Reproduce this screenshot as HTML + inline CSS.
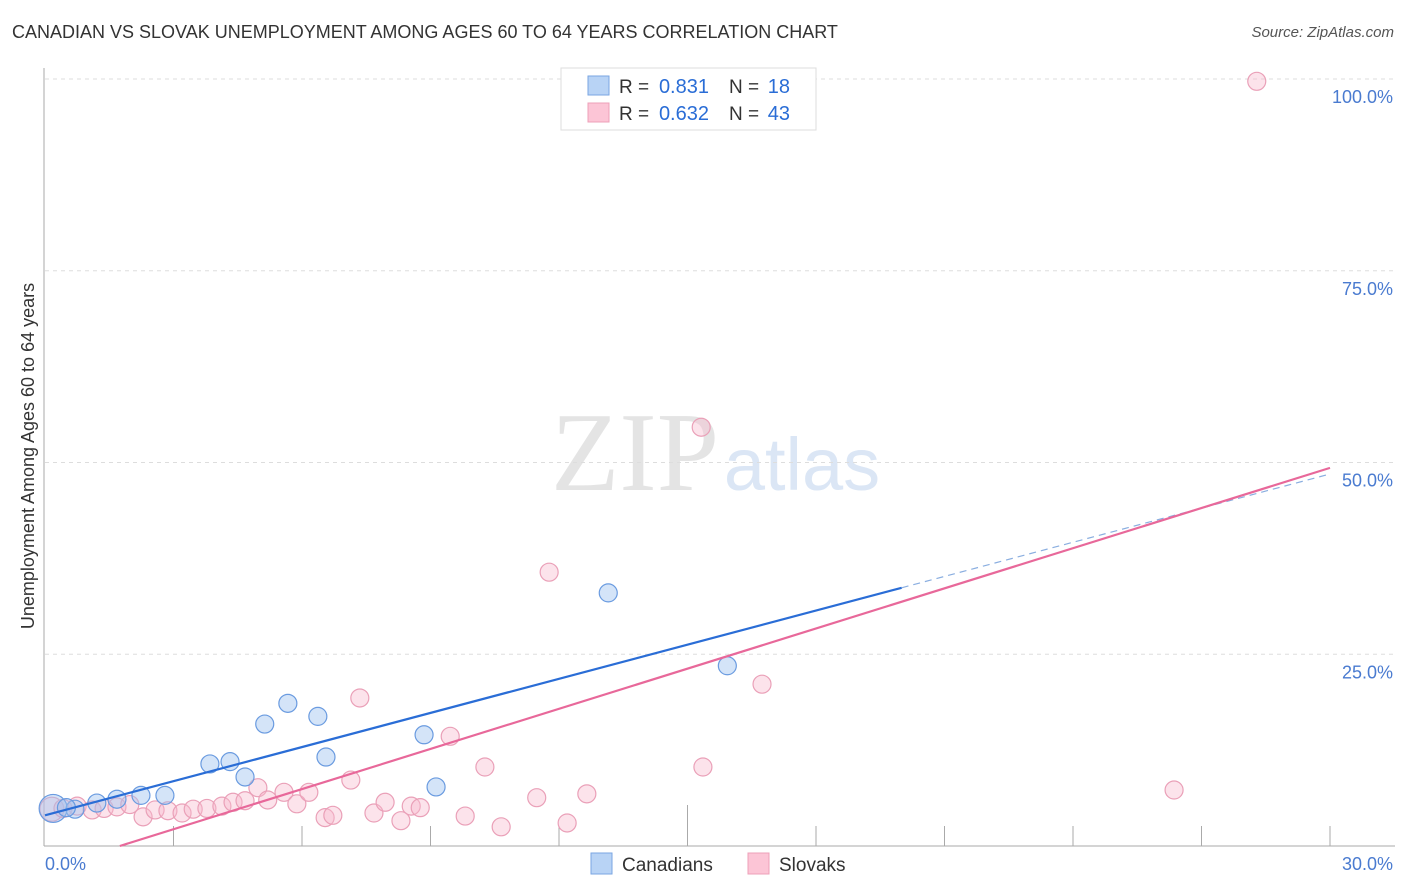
<!DOCTYPE html>
<html><head><meta charset="utf-8">
<style>
body{margin:0;background:#fff;font-family:"Liberation Sans",sans-serif;}
#wrap{position:relative;width:1406px;height:892px;overflow:hidden;}
.t{position:absolute;white-space:nowrap;}
</style></head>
<body>
<div id="wrap">
<div class="t" style="left:12px;top:22px;font-size:18px;color:#333;">CANADIAN VS SLOVAK UNEMPLOYMENT AMONG AGES 60 TO 64 YEARS CORRELATION CHART</div>
<div class="t" style="right:12px;top:24px;font-size:15px;color:#555;font-style:italic;">Source: ZipAtlas.com</div>
<svg id="svg" width="1406" height="892" style="position:absolute;left:0;top:0"></svg>
</div>
<script>
const xTicks=[0,3,6,9,12,15,18,21,24,27,30];
const yTicks=[25,50,75,100];
const canX=[0.19,0.70,1.21,1.68,2.24,2.80,3.85,4.32,4.67,5.13,5.67,6.37,6.56,8.85,9.13,13.15,15.93,0.50];
const canY=[4.9,4.8,5.6,6.1,6.6,6.6,10.7,11.0,9.0,15.9,18.6,16.9,11.6,14.5,7.7,33.0,23.5,5.0];
const slvX=[0.16,0.42,0.75,1.10,1.38,1.68,1.98,2.29,2.57,2.87,3.20,3.46,3.78,4.13,4.39,4.67,4.97,5.20,5.58,5.88,6.16,6.54,6.72,7.14,7.35,7.68,7.94,8.31,8.55,8.76,9.46,9.81,10.27,10.65,11.48,12.19,12.65,15.36,16.74,11.77,15.32,28.29,26.36];
const slvY=[4.8,4.9,5.2,4.7,4.9,5.1,5.4,3.8,4.7,4.6,4.3,4.8,4.9,5.2,5.7,5.9,7.6,6.0,7.0,5.5,7.0,3.7,4.0,8.6,19.3,4.3,5.7,3.3,5.2,5.0,14.3,3.9,10.3,2.5,6.3,3.0,6.8,10.3,21.1,35.7,54.6,99.7,7.3];
const canLine=[4.0,48.5];
const slvLine=[-3.05,49.3];
const NS='http://www.w3.org/2000/svg';
const svg=document.getElementById('svg');
const X0=45,X1=1330,Y0=846,Y100=79;
const sx=v=>X0+v/30*(X1-X0);
const sy=v=>Y0-v/100*(Y0-Y100);
function mk(tag,a,parent){const e=document.createElementNS(NS,tag);for(const k in a)e.setAttribute(k,a[k]);(parent||svg).appendChild(e);return e;}
let w=mk('text',{x:635,y:490,'font-size':112,'font-family':'Liberation Serif,serif',fill:'#e4e4e4','text-anchor':'middle'});w.textContent='ZIP';


let w2=mk('text',{x:802,y:490,'font-size':74,'font-family':'Liberation Sans,sans-serif',fill:'#dbe6f5','text-anchor':'middle'});w2.textContent='atlas';


yTicks.forEach(v=>{
 const g=mk('line',{x1:X0,x2:1395,y1:sy(v),y2:sy(v),stroke:'#ddd','stroke-dasharray':'4,4'});
 
 
 const t=mk('text',{x:1393,y:sy(v)+24,'font-size':18,fill:'#4a7bd0','text-anchor':'end'});t.textContent=v.toFixed(1)+'%';
 
 
});
const ax=mk('line',{x1:X0-1,x2:X0-1,y1:68,y2:Y0,stroke:'#aaa'});


const bx=mk('line',{x1:X0-1,x2:1395,y1:Y0,y2:Y0,stroke:'#aaa'});


xTicks.forEach((v,i)=>{
 if(i==0)return;
 const tl=mk('line',{x1:sx(v),x2:sx(v),y1:(v==15?805:826),y2:Y0,stroke:'#aaa'});
 
 
});
let xl=mk('text',{x:45,y:870,'font-size':18,fill:'#4a7bd0'});xl.textContent='0.0%';


let xr=mk('text',{x:1393,y:870,'font-size':18,fill:'#4a7bd0','text-anchor':'end'});xr.textContent='30.0%';


let yt=mk('text',{x:0,y:0,'font-size':18,fill:'#333','text-anchor':'middle',transform:'translate(34,456) rotate(-90)'});yt.textContent='Unemployment Among Ages 60 to 64 years';


function pts(xs,ys,fill,stroke,name){
 ys.forEach((y,i)=>{
  const c=mk('circle',{cx:sx(xs[i]),cy:sy(y),r:i==0&&name=='canadian'?14:(i==0?12:9),fill:fill,stroke:stroke,'stroke-width':1.2});
  
  
 });
}
pts(slvX,slvY,'rgba(248,185,205,0.4)','#eaa0b8','slovak');
pts(canX,canY,'rgba(160,195,240,0.45)','#6a9be0','canadian');
const cx1=20;
let l1=mk('line',{x1:sx(0),y1:sy(canLine[0]),x2:sx(cx1),y2:sy(canLine[0]+(canLine[1]-canLine[0])*cx1/30),stroke:'#2a6dd6','stroke-width':2.2});


let l1d=mk('line',{x1:sx(cx1),y1:sy(canLine[0]+(canLine[1]-canLine[0])*cx1/30),x2:sx(30),y2:sy(canLine[1]),stroke:'#8aaee0','stroke-width':1.2,'stroke-dasharray':'7,5'});


const px0=-slvLine[0]/((slvLine[1]-slvLine[0])/30);
let l2=mk('line',{x1:sx(px0),y1:sy(0),x2:sx(30),y2:sy(slvLine[1]),stroke:'#e8689a','stroke-width':2.2});


const lg=mk('g',{});


mk('rect',{x:561,y:68,width:255,height:62,fill:'#fff',stroke:'#ddd'},lg);
mk('rect',{x:588,y:76,width:21,height:19,fill:'#b8d3f5',stroke:'#7aa6e2'},lg);
mk('rect',{x:588,y:103,width:21,height:19,fill:'#fcc5d6',stroke:'#eea0b8'},lg);
[[93,'0.831','18'],[120,'0.632','43']].forEach(r=>{
 const a=mk('text',{x:619,y:r[0],'font-size':19,fill:'#333'},lg);a.textContent='R = ';
 const b=mk('text',{x:709,y:r[0],'font-size':20,fill:'#2a6dd6','text-anchor':'end'},lg);b.textContent=r[1];
 const c=mk('text',{x:729,y:r[0],'font-size':19,fill:'#333'},lg);c.textContent='N = ';
 const d=mk('text',{x:790,y:r[0],'font-size':20,fill:'#2a6dd6','text-anchor':'end'},lg);d.textContent=r[2];
});
[[591,'#b8d3f5','#7aa6e2','Canadians','legend-canadians'],[748,'#fcc5d6','#eea0b8','Slovaks','legend-slovaks']].forEach(r=>{
 const g=mk('g',{});
 
 
 mk('rect',{x:r[0],y:853,width:21,height:21,fill:r[1],stroke:r[2]},g);
 const t=mk('text',{x:r[0]+31,y:871,'font-size':19,fill:'#333'},g);t.textContent=r[3];
});
</script>
</body></html>
